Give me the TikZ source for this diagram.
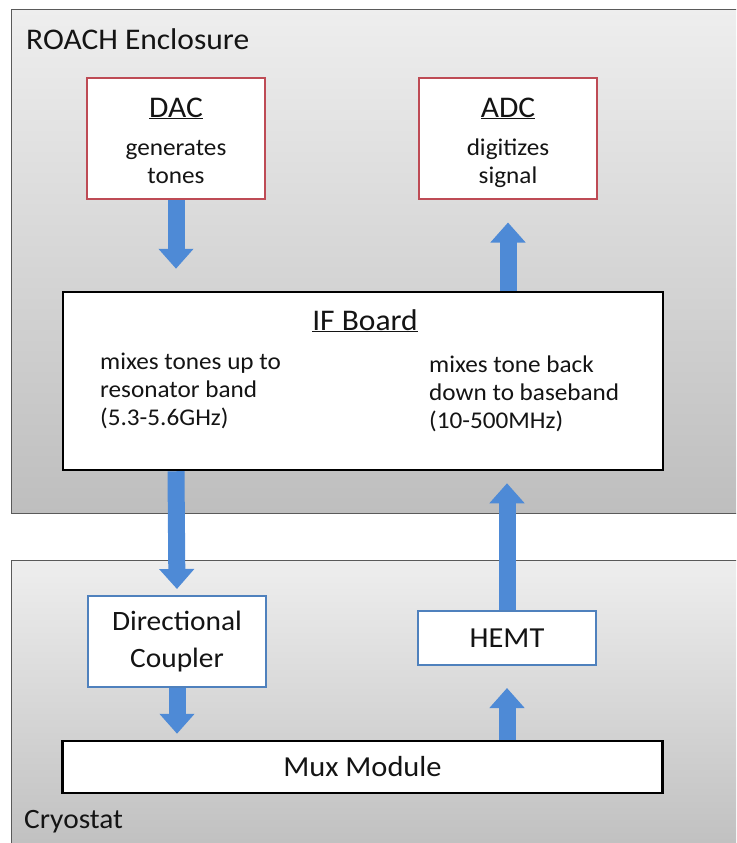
\documentclass[tikz,border=0pt]{standalone}
\usepackage{fontspec}
\setmainfont{Carlito}[FakeStretch=1.05]
\usetikzlibrary{arrows.meta,positioning}

\definecolor{encline}{RGB}{90,90,90}
\definecolor{enctop}{RGB}{238,238,238}
\definecolor{encbot}{RGB}{190,190,190}
\definecolor{redline}{RGB}{190,75,85}
\definecolor{blueline}{RGB}{79,129,189}
\definecolor{flowblue}{RGB}{78,138,214}
\definecolor{ink}{RGB}{20,20,20}

\begin{document}
\begin{tikzpicture}[x=1pt,y=-1pt,>={Triangle[width=34pt,length=20pt]},text=ink]
	\tikzstyle{enclosure}=[rectangle, draw=encline, line width=1.2pt, top color=enctop, bottom color=encbot, anchor=north west]
	\tikzstyle{redbox}=[rectangle, draw=redline, line width=2pt, fill=white, minimum width=178pt, minimum height=121pt]
	\tikzstyle{bluebox}=[rectangle, draw=blueline, line width=2pt, fill=white, minimum width=178pt]
	\tikzstyle{board}=[rectangle, draw=black, line width=2.5pt, fill=white, minimum width=600pt]
	\tikzstyle{flow}=[->, draw=flowblue, line width=17pt]
	\tikzstyle{title}=[font=\fontsize{30}{36}\selectfont, anchor=base, inner sep=0pt]
	\tikzstyle{body}=[font=\fontsize{24}{28}\selectfont, anchor=base, inner sep=0pt]

	\clip (0,0) rectangle (736,843);

	% enclosures
	\node [enclosure, minimum width=740pt, minimum height=504pt] (roach) at (11,9) {};
	\node [enclosure, minimum width=740pt, minimum height=300pt] (cryo) at (11,560) {};
	\node [title, anchor=base west] (roachlbl) at (26,49) {ROACH Enclosure};
	\node [title, anchor=base west, font=\fontsize{28}{34}\selectfont] (cryolbl) at (24,828) {Cryostat};

	% converters (base of a two-line text is its last line)
	\node [redbox] (dac) at (176,138) {};
	\node [redbox] (adc) at (508,138) {};
	\node [title] (dact) at (176,117) {\underline{DAC}};
	\node [body, align=center] (dacs) at (176,183) {generates\\tones};
	\node [title] (adct) at (508,117) {\underline{ADC}};
	\node [body, align=center] (adcs) at (508,183) {digitizes\\signal};

	% IF board
	\node [board, minimum height=178pt] (ifb) at (363,381) {};
	\node [title] (ifbt) at (365,330) {\underline{IF Board}};
	\node [body, anchor=base west, align=left] (ifup) at (100,425) {mixes tones up to\\resonator band\\(5.3-5.6GHz)};
	\node [body, anchor=base west, align=left] (ifdown) at (429,428) {mixes tone back\\down to baseband\\(10-500MHz)};

	% cold side
	\node [bluebox, minimum height=91pt, align=center, font=\fontsize{28}{37}\selectfont] (dc) at (177,641.5) {Directional\\Coupler};
	\node [bluebox, minimum height=54pt, font=\fontsize{29}{35}\selectfont] (hemt) at (507,638) {HEMT};
	\node [board, minimum height=52pt, font=\fontsize{29}{35}\selectfont] (mux) at (362.5,767) {Mux Module};

	% signal flow
	\draw [flow, shorten >=22pt] (dac.south) -- (dac.south |- ifb.north);
	\draw [flow, shorten >=23pt] (adc.south |- ifb.north) -- (adc.south);
	\draw [flow, shorten >=6pt] (dac.south |- ifb.south) -- (dc.north);
	\draw [flow, shorten >=12pt] (hemt.north) -- (hemt.north |- ifb.south);
	\draw [flow, shorten >=6pt] (dc.south) -- (dc.south |- mux.north);
	\draw [flow, shorten >=22pt] (hemt.south |- mux.north) -- (hemt.south);
\end{tikzpicture}
\end{document}
